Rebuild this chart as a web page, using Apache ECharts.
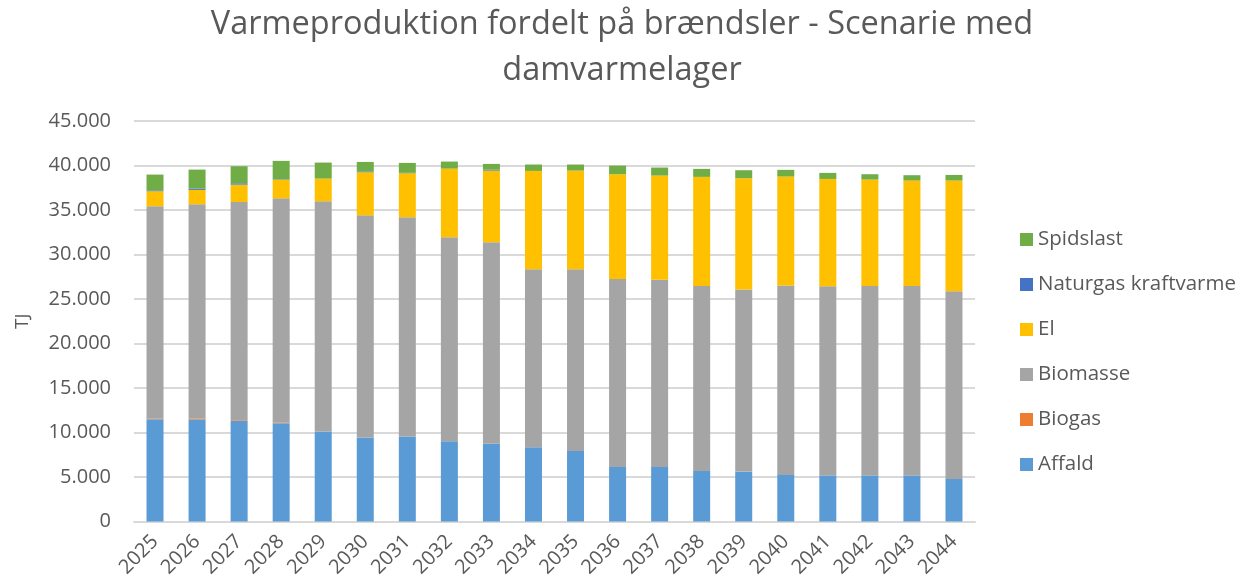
<!DOCTYPE html>
<html>
<head>
<meta charset="utf-8">
<script src="https://cdn.jsdelivr.net/npm/echarts@6/dist/echarts.min.js"></script>
<style>
  html, body { margin: 0; padding: 0; background: #ffffff; }
  #chart { width: 1249px; height: 588px; }
</style>
</head>
<body>
<div id="chart"></div>
<script>
// Heat production per fuel (TJ), 2025-2044
const years = ['2025','2026','2027','2028','2029','2030','2031','2032','2033','2034',
               '2035','2036','2037','2038','2039','2040','2041','2042','2043','2044'];

const affald    = [11500, 11450, 11300, 11050, 10100, 9430, 9540, 9020, 8750, 8350,
                   7930, 6130, 6130, 5680, 5610, 5230, 5180, 5180, 5180, 4780];
const biogas    = [80, 100, 80, 80, 0, 0, 0, 0, 0, 0,
                   0, 0, 0, 0, 0, 0, 0, 0, 0, 0];
const biomasse  = [23840, 24090, 24520, 25180, 25880, 24970, 24640, 22910, 22620, 19980,
                   20400, 21110, 21040, 20780, 20470, 21300, 21240, 21280, 21280, 21080];
const el        = [1690, 1620, 1950, 2080, 2550, 4840, 4950, 7720, 8060, 11060,
                   11100, 11780, 11700, 12260, 12490, 12230, 12070, 11960, 11850, 12450];
const naturgas  = [100, 150, 150, 50, 0, 100, 50, 0, 100, 0,
                   0, 0, 0, 0, 0, 0, 0, 0, 0, 0];
const spidslast = [1770, 2130, 1920, 2080, 1800, 1060, 1110, 790, 650, 720,
                   680, 970, 900, 900, 900, 750, 680, 600, 600, 630];

const yTicks = { min: 0, max: 45000, interval: 5000 };

const txt = '#595959';
const grid = '#D9D9D9';

function thousands(v) {
  return String(v).replace(/\B(?=(\d{3})+(?!\d))/g, '.');
}

function bar(name, data, color) {
  return {
    name: name,
    type: 'bar',
    stack: 'total',
    data: data,
    barWidth: 17,
    itemStyle: { color: color },
    emphasis: { disabled: true }
  };
}

const chart = echarts.init(document.getElementById('chart'), null, { renderer: 'canvas' });
chart.setOption({
  animation: false,
  backgroundColor: '#ffffff',
  textStyle: { fontFamily: 'Open Sans' },
  title: {
    text: 'Varmeproduktion fordelt på brændsler - Scenarie med\ndamvarmelager',
    left: 617,
    textAlign: 'center',
    top: -3,
    textStyle: {
      color: txt,
      fontSize: 32.5,
      fontWeight: 'normal',
      fontFamily: 'Open Sans',
      lineHeight: 46
    }
  },
  legend: {
    orient: 'vertical',
    left: 1015,
    top: 224,
    itemWidth: 13,
    itemHeight: 13,
    itemGap: 24,
    icon: 'rect',
    data: ['Spidslast', 'Naturgas kraftvarme', 'El', 'Biomasse', 'Biogas', 'Affald'],
    textStyle: { color: txt, fontSize: 20.5, lineHeight: 21, fontFamily: 'Open Sans' },
    selectedMode: false
  },
  grid: { left: 134, right: 274, top: 121, bottom: 66.5, containLabel: false },
  xAxis: {
    type: 'category',
    data: years,
    axisLine: { show: true, lineStyle: { color: grid, width: 2 } },
    axisTick: { show: false },
    axisLabel: { color: txt, fontSize: 20, rotate: 45, margin: 17, interval: 0, fontFamily: 'Open Sans' }
  },
  yAxis: {
    type: 'value',
    min: yTicks.min,
    max: yTicks.max,
    interval: yTicks.interval,
    name: 'TJ',
    nameLocation: 'middle',
    nameGap: 102,
    nameRotate: 90,
    nameTextStyle: { color: txt, fontSize: 19, fontFamily: 'Open Sans' },
    axisLine: { show: false },
    axisTick: { show: false },
    splitLine: { lineStyle: { color: grid, width: 2 } },
    axisLabel: { color: txt, fontSize: 20, margin: 23, formatter: thousands, fontFamily: 'Open Sans' }
  },
  series: [
    bar('Affald', affald, '#5B9BD5'),
    bar('Biogas', biogas, '#ED7D31'),
    bar('Biomasse', biomasse, '#A5A5A5'),
    bar('El', el, '#FFC000'),
    bar('Naturgas kraftvarme', naturgas, '#4472C4'),
    bar('Spidslast', spidslast, '#70AD47')
  ]
});
</script>
</body>
</html>
